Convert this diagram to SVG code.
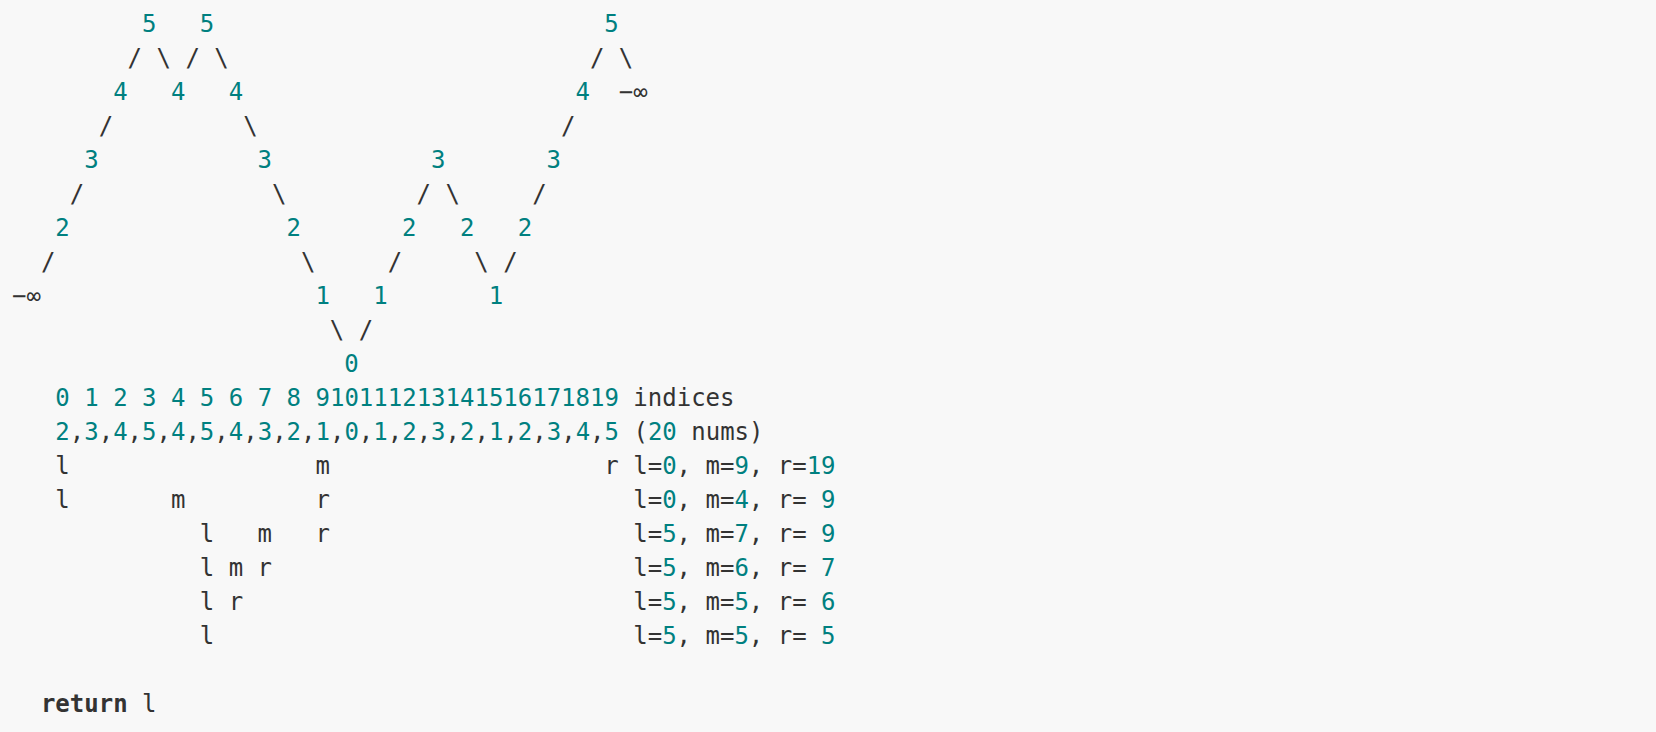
<svg xmlns="http://www.w3.org/2000/svg" width="1656" height="732" viewBox="0 0 1656 732">
<style>
text{font-family:"DejaVu Sans Mono","Liberation Mono",monospace;font-size:24px;fill:#333333;white-space:pre}
.n{fill:#008080}
.k{font-weight:bold}
</style>
<rect x="0" y="0" width="1656" height="732" fill="#f8f8f8"/>
<g id="tree-values">
<text y="31.6"><tspan class="n" x="142.03">5</tspan><tspan class="n" x="199.82">5</tspan><tspan class="n" x="604.37">5</tspan></text>
<text y="99.6"><tspan class="n" x="113.14">4</tspan><tspan class="n" x="170.93">4</tspan><tspan class="n" x="228.72">4</tspan><tspan class="n" x="575.47">4</tspan><tspan x="618.82">−∞</tspan></text>
<text y="167.6"><tspan class="n" x="84.24">3</tspan><tspan class="n" x="257.62">3</tspan><tspan class="n" x="430.99">3</tspan><tspan class="n" x="546.58">3</tspan></text>
<text y="235.6"><tspan class="n" x="55.34">2</tspan><tspan class="n" x="286.51">2</tspan><tspan class="n" x="402.1">2</tspan><tspan class="n" x="459.89">2</tspan><tspan class="n" x="517.68">2</tspan></text>
<text y="303.6"><tspan x="12">−∞</tspan><tspan class="n" x="315.41">1</tspan><tspan class="n" x="373.2">1</tspan><tspan class="n" x="488.78">1</tspan></text>
<text y="371.6"><tspan class="n" x="344.3">0</tspan></text>
</g>
<g id="connectors">
<text y="65.6"><tspan x="127.58">/</tspan><tspan x="156.48">\</tspan><tspan x="185.38">/</tspan><tspan x="214.27">\</tspan><tspan x="589.92">/</tspan><tspan x="618.82">\</tspan></text>
<text y="133.6"><tspan x="98.69">/</tspan><tspan x="243.17">\</tspan><tspan x="561.02">/</tspan></text>
<text y="201.6"><tspan x="69.79">/</tspan><tspan x="272.06">\</tspan><tspan x="416.54">/</tspan><tspan x="445.44">\</tspan><tspan x="532.13">/</tspan></text>
<text y="269.6"><tspan x="40.9">/</tspan><tspan x="300.96">\</tspan><tspan x="387.65">/</tspan><tspan x="474.34">\</tspan><tspan x="503.23">/</tspan></text>
<text y="337.6"><tspan x="329.86">\</tspan><tspan x="358.75">/</tspan></text>
</g>
<g id="table">
<text x="55.34" y="405.6"><tspan class="n">0</tspan> <tspan class="n">1</tspan> <tspan class="n">2</tspan> <tspan class="n">3</tspan> <tspan class="n">4</tspan> <tspan class="n">5</tspan> <tspan class="n">6</tspan> <tspan class="n">7</tspan> <tspan class="n">8</tspan> <tspan class="n">910111213141516171819</tspan> indices</text>
<text x="55.34" y="439.6"><tspan class="n">2</tspan>,<tspan class="n">3</tspan>,<tspan class="n">4</tspan>,<tspan class="n">5</tspan>,<tspan class="n">4</tspan>,<tspan class="n">5</tspan>,<tspan class="n">4</tspan>,<tspan class="n">3</tspan>,<tspan class="n">2</tspan>,<tspan class="n">1</tspan>,<tspan class="n">0</tspan>,<tspan class="n">1</tspan>,<tspan class="n">2</tspan>,<tspan class="n">3</tspan>,<tspan class="n">2</tspan>,<tspan class="n">1</tspan>,<tspan class="n">2</tspan>,<tspan class="n">3</tspan>,<tspan class="n">4</tspan>,<tspan class="n">5</tspan> (<tspan class="n">20</tspan> nums)</text>
<text y="473.6"><tspan x="55.34">l</tspan><tspan x="315.41">m</tspan><tspan x="604.37">r</tspan><tspan x="633.26">l=</tspan><tspan class="n">0</tspan>, m=<tspan class="n">9</tspan>, r=<tspan class="n">19</tspan></text>
<text y="507.6"><tspan x="55.34">l</tspan><tspan x="170.93">m</tspan><tspan x="315.41">r</tspan><tspan x="633.26">l=</tspan><tspan class="n">0</tspan>, m=<tspan class="n">4</tspan>, r= <tspan class="n">9</tspan></text>
<text y="541.6"><tspan x="199.82">l</tspan><tspan x="257.62">m</tspan><tspan x="315.41">r</tspan><tspan x="633.26">l=</tspan><tspan class="n">5</tspan>, m=<tspan class="n">7</tspan>, r= <tspan class="n">9</tspan></text>
<text y="575.6"><tspan x="199.82">l</tspan><tspan x="228.72">m</tspan><tspan x="257.62">r</tspan><tspan x="633.26">l=</tspan><tspan class="n">5</tspan>, m=<tspan class="n">6</tspan>, r= <tspan class="n">7</tspan></text>
<text y="609.6"><tspan x="199.82">l</tspan><tspan x="228.72">r</tspan><tspan x="633.26">l=</tspan><tspan class="n">5</tspan>, m=<tspan class="n">5</tspan>, r= <tspan class="n">6</tspan></text>
<text y="643.6"><tspan x="199.82">l</tspan><tspan x="633.26">l=</tspan><tspan class="n">5</tspan>, m=<tspan class="n">5</tspan>, r= <tspan class="n">5</tspan></text>
</g>
<g id="return">
<text x="40.9" y="711.6"><tspan class="k">return</tspan> l</text>
</g>
</svg>
